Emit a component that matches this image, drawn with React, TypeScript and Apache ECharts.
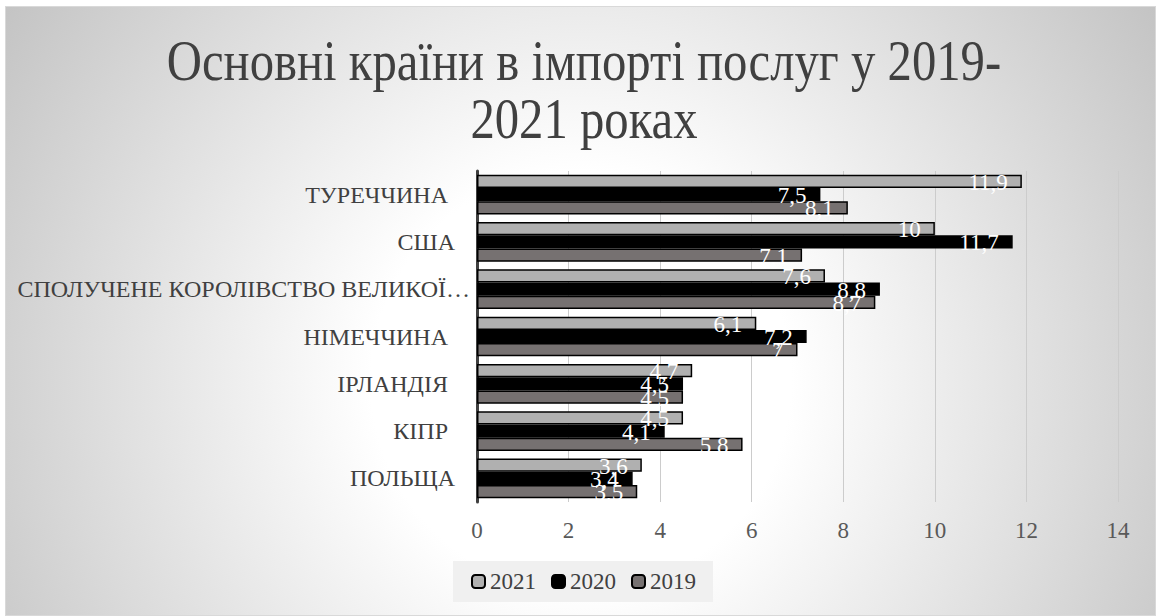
import React, { useEffect, useRef } from "react";
import * as echarts from "echarts";

const titleText = "Основні країни в імпорті послуг у 2019-\n2021 роках";
const categories = [
  "ТУРЕЧЧИНА",
  "США",
  "СПОЛУЧЕНЕ КОРОЛІВСТВО ВЕЛИКОЇ…",
  "НІМЕЧЧИНА",
  "ІРЛАНДІЯ",
  "КІПР",
  "ПОЛЬЩА",
];
const seriesNames = ["2021", "2020", "2019"];
const values2021 = [11.9, 10, 7.6, 6.1, 4.7, 4.5, 3.6];
const values2020 = [7.5, 11.7, 8.8, 7.2, 4.5, 4.1, 3.4];
const values2019 = [8.1, 7.1, 8.7, 7, 4.5, 5.8, 3.5];
const xMin = 0;
const xMax = 14;
const xInterval = 2;

// styling only: right padding of each category label (px)
const labelPadRight = [22, 15, 0, 22, 22, 22, 15];
const seriesColors = ["#b0b0b0", "#000000", "#767171"];

const FONT = "Liberation Serif, serif";

export default function App() {
  const ref = useRef<HTMLDivElement>(null);

  useEffect(() => {
    if (!ref.current) return;
    const chart = echarts.init(ref.current, null, { renderer: "svg" });
    const seriesData = [values2021, values2020, values2019];
    const richBase = { fontSize: 24, color: "#404040", fontFamily: FONT };
    chart.setOption({
      animation: false,
      textStyle: { fontFamily: FONT },
      graphic: [
        {
          type: "text",
          x: 584,
          y: 32,
          scaleX: 0.84,
          style: {
            text: titleText,
            fontSize: 58,
            lineHeight: 58,
            fontFamily: FONT,
            fill: "#404040",
            align: "center",
            textAlign: "center",
            verticalAlign: "top",
            textVerticalAlign: "top",
          },
        },
      ],
      legend: {
        data: seriesNames,
        left: 453,
        top: 561,
        padding: [9, 17, 9, 18],
        backgroundColor: "#f0f0f0",
        itemWidth: 13,
        itemHeight: 13,
        itemGap: 15,
        textStyle: { fontSize: 23, color: "#404040", fontFamily: FONT },
      },
      grid: { left: 477, right: 42, top: 171, bottom: 114, containLabel: false },
      xAxis: {
        type: "value",
        min: xMin,
        max: xMax,
        interval: xInterval,
        axisLine: { show: false },
        axisTick: { show: false },
        splitLine: { show: true, lineStyle: { color: "#cccccc", width: 1 } },
        axisLabel: { fontSize: 23, color: "#595959", fontFamily: FONT, margin: 17 },
      },
      yAxis: {
        type: "category",
        data: categories,
        inverse: true,
        axisTick: { show: false },
        axisLine: { show: true, lineStyle: { color: "#404040", width: 3 } },
        axisLabel: {
          margin: 7,
          fontSize: 24,
          color: "#404040",
          fontFamily: FONT,
          formatter: (v: string, i: number) => `{p${labelPadRight[i]}|${v}}`,
          rich: {
            p0: { ...richBase, padding: [0, 0, 0, 0] },
            p15: { ...richBase, padding: [0, 15, 0, 0] },
            p22: { ...richBase, padding: [0, 22, 0, 0] },
          },
        },
      },
      series: seriesNames.map((name, k) => ({
        name,
        type: "bar",
        data: seriesData[k],
        barGap: "0%",
        barCategoryGap: "16%",
        itemStyle: { color: seriesColors[k], borderColor: "#000000", borderWidth: 1.5 },
        label: {
          show: true,
          position: "insideRight",
          distance: 14,
          offset: [0, 1],
          color: "#ffffff",
          fontSize: 23,
          fontFamily: FONT,
          formatter: (p: any) => String(p.value).replace(".", ","),
        },
      })),
    });
    return () => chart.dispose();
  }, []);

  return (
    <div style={{ position: "fixed", left: 0, top: 0, width: 1160, height: 616, background: "#ffffff" }}>
      <div
        style={{
          position: "absolute",
          left: 5,
          top: 6,
          width: 1151,
          height: 610,
          border: "1px solid #d9d9d9",
          boxSizing: "border-box",
          background:
            "radial-gradient(circle 700px at 575px 374px, #ffffff 0%, #ffffff 30%, #c2c2c2 100%)",
        }}
      />
      <div ref={ref} style={{ position: "absolute", left: 0, top: 0, width: 1160, height: 616 }} />
    </div>
  );
}
